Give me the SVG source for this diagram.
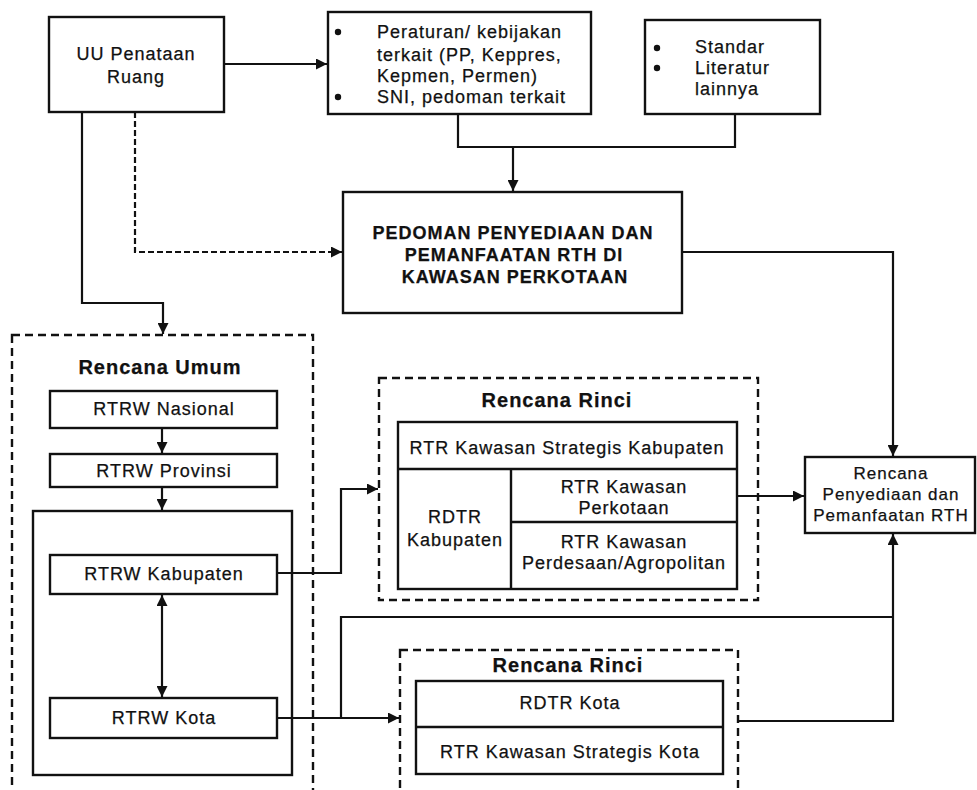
<svg xmlns="http://www.w3.org/2000/svg" width="977" height="790" viewBox="0 0 977 790">
<style>
.box{fill:#fff;stroke:#111;stroke-width:2.4}
.inner{fill:none;stroke:#111;stroke-width:2.4}
.dbox{fill:none;stroke:#111;stroke-width:2.4;stroke-dasharray:8,5}
.ln{fill:none;stroke:#111;stroke-width:2.2}
.dln{fill:none;stroke:#111;stroke-width:2.2;stroke-dasharray:6,3}
text{font-family:"Liberation Sans",Arial,sans-serif;font-size:18px;fill:#111;letter-spacing:1px;stroke:#111;stroke-width:0.25}
.c{text-anchor:middle}
.b{font-weight:bold}
.t{font-weight:bold;font-size:20px}
.s{font-size:17px}
</style>
<defs>
<marker id="ah" viewBox="0 0 10 10" refX="10" refY="5" markerWidth="6" markerHeight="5" markerUnits="strokeWidth" orient="auto-start-reverse">
<path d="M0,0 L10,5 L0,10 z" fill="#111"/>
</marker>
</defs>
<rect width="977" height="790" fill="#fff"/>

<g id="connectors">
<path class="ln" d="M224,64 H327" marker-end="url(#ah)"/>
<path class="ln" d="M82,112 V303 H163 V334" marker-end="url(#ah)"/>
<path class="dln" d="M135,112 V252 H342" marker-end="url(#ah)"/>
<path class="ln" d="M458,114 V147 H735 V114"/>
<path class="ln" d="M513,147 V191" marker-end="url(#ah)"/>
<path class="ln" d="M682,252 H893 V456" marker-end="url(#ah)"/>
<path class="ln" d="M162,428 V453" marker-end="url(#ah)"/>
<path class="ln" d="M162,487 V510" marker-end="url(#ah)"/>
<path class="ln" d="M162,595 V697" marker-start="url(#ah)" marker-end="url(#ah)"/>
<path class="ln" d="M277,573 H341 V489 H378" marker-end="url(#ah)"/>
<path class="ln" d="M277,718 H399" marker-end="url(#ah)"/>
<path class="ln" d="M341,718 V617 H893"/>
<path class="ln" d="M738,721 H893 V534" marker-end="url(#ah)"/>
<path class="ln" d="M737,496 H804" marker-end="url(#ah)"/>
</g>

<g id="uu">
<rect class="box" x="49" y="17" width="175" height="95"/>
<text class="c" x="136" y="60">UU Penataan</text>
<text class="c" x="136" y="83">Ruang</text>
</g>

<g id="peraturan">
<rect class="box" x="328" y="12" width="263" height="102"/>
<circle cx="338" cy="32" r="3.2" fill="#111"/>
<circle cx="338" cy="97" r="3.2" fill="#111"/>
<text x="377" y="38">Peraturan/ kebijakan</text>
<text x="377" y="61">terkait (PP, Keppres,</text>
<text x="377" y="82">Kepmen, Permen)</text>
<text x="377" y="103">SNI, pedoman terkait</text>
</g>

<g id="standar">
<rect class="box" x="645" y="20" width="175" height="94"/>
<circle cx="657" cy="48" r="3.2" fill="#111"/>
<circle cx="657" cy="68" r="3.2" fill="#111"/>
<text x="695" y="53">Standar</text>
<text x="695" y="74">Literatur</text>
<text x="695" y="95">lainnya</text>
</g>

<g id="pedoman">
<rect class="box" x="343" y="192" width="339" height="121"/>
<text class="c b" x="513" y="239">PEDOMAN PENYEDIAAN DAN</text>
<text class="c b" x="514" y="261">PEMANFAATAN  RTH DI</text>
<text class="c b" x="515" y="283">KAWASAN PERKOTAAN</text>
</g>

<g id="rencana-umum">
<rect class="dbox" x="12" y="335" width="301" height="470"/>
<text class="c t" x="160" y="374">Rencana Umum</text>
<rect class="inner" x="33" y="511" width="259" height="264"/>
</g>

<g id="rtrw-nasional">
<rect class="box" x="50" y="391" width="227" height="37"/>
<text class="c" x="164" y="415">RTRW Nasional</text>
</g>
<g id="rtrw-provinsi">
<rect class="box" x="50" y="454" width="227" height="33"/>
<text class="c" x="164" y="477">RTRW Provinsi</text>
</g>
<g id="rtrw-kabupaten">
<rect class="box" x="50" y="555" width="227" height="39"/>
<text class="c" x="164" y="580">RTRW Kabupaten</text>
</g>
<g id="rtrw-kota">
<rect class="box" x="50" y="698" width="227" height="40"/>
<text class="c" x="164" y="724">RTRW Kota</text>
</g>

<g id="rencana-rinci-1">
<rect class="dbox" x="379" y="378" width="379" height="222"/>
<text class="c t" x="557" y="407">Rencana Rinci</text>
<rect class="box" x="398" y="422" width="339" height="167"/>
<path class="inner" d="M398,469 H737 M511,469 V589 M511,522 H737"/>
<text class="c" x="567" y="454">RTR Kawasan Strategis Kabupaten</text>
<text class="c" x="455" y="523">RDTR</text>
<text class="c" x="455" y="546">Kabupaten</text>
<text class="c" x="624" y="493">RTR Kawasan</text>
<text class="c" x="624" y="514">Perkotaan</text>
<text class="c" x="624" y="548">RTR Kawasan</text>
<text class="c" x="624" y="569">Perdesaan/Agropolitan</text>
</g>

<g id="rencana-rinci-2">
<rect class="dbox" x="400" y="650" width="338" height="160"/>
<text class="c t" x="568" y="672">Rencana Rinci</text>
<rect class="box" x="416" y="681" width="307" height="93"/>
<path class="inner" d="M416,727 H723"/>
<text class="c" x="570" y="709">RDTR Kota</text>
<text class="c" x="570" y="758">RTR Kawasan Strategis Kota</text>
</g>

<g id="rencana-rth">
<rect class="box" x="805" y="457" width="170" height="76"/>
<text class="c s" x="891" y="479">Rencana</text>
<text class="c s" x="891" y="500">Penyediaan dan</text>
<text class="c s" x="891" y="521">Pemanfaatan RTH</text>
</g>
</svg>
